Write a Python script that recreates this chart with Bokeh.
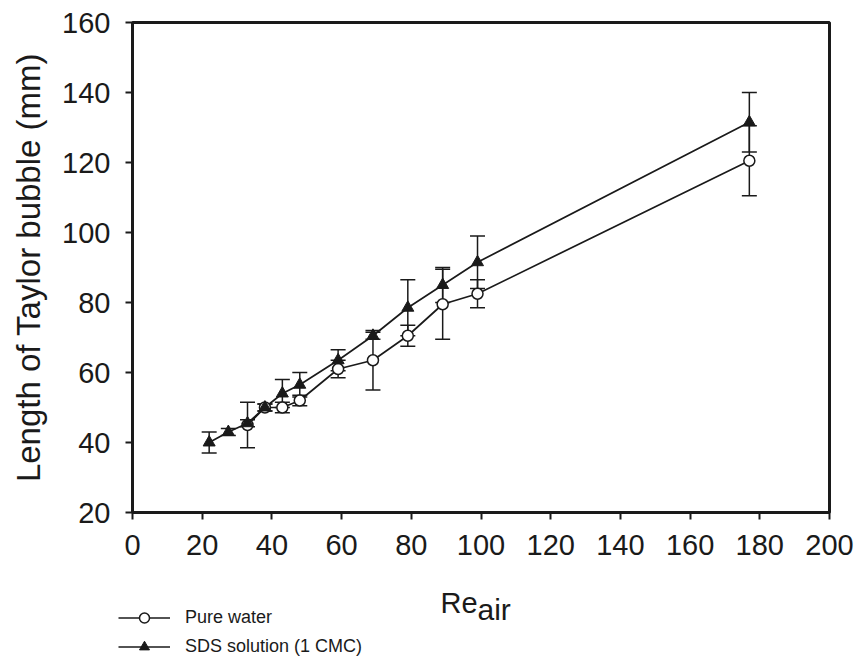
from bokeh.plotting import figure
from bokeh.layouts import column
from bokeh.models import (ColumnDataSource, Whisker, TeeHead, Legend, LegendItem,
                          FixedTicker, Range1d)
from bokeh.core.properties import value
from bokeh.embed import file_html
from bokeh.resources import INLINE

# ---- data ----
re_water = [33, 38, 43, 48, 59, 69, 79, 89, 99, 177]
len_water = [45, 50, 50, 52, 61, 63.5, 70.5, 79.5, 82.5, 120.5]
err_water = [6.5, 1, 1.5, 1.5, 2.5, 8.5, 3, 10, 4, 10]

re_sds = [22, 27.5, 33, 38, 43, 48, 59, 69, 79, 89, 99, 177]
len_sds = [40, 43, 45.5, 50, 54, 56.5, 63.5, 70.5, 78.5, 85, 91.5, 131.5]
err_sds = [3, 1, 1, 1, 4, 3.5, 3, 1, 8, 5, 7.5, 8.5]

x_ticks = [0, 20, 40, 60, 80, 100, 120, 140, 160, 180, 200]
y_ticks = [20, 40, 60, 80, 100, 120, 140, 160]

series_names = ["Pure water", "SDS solution (1 CMC)"]
y_title = "Length of Taylor bubble (mm)"
x_title_main, x_title_sub = "Re", "air"

FONT = "Liberation Sans"
INK = "#1a1a1a"

src_w = ColumnDataSource(dict(x=re_water, y=len_water,
                              lo=[v - e for v, e in zip(len_water, err_water)],
                              hi=[v + e for v, e in zip(len_water, err_water)]))
src_s = ColumnDataSource(dict(x=re_sds, y=len_sds,
                              lo=[v - e for v, e in zip(len_sds, err_sds)],
                              hi=[v + e for v, e in zip(len_sds, err_sds)]))

W = 860
H_MAIN = 575
H_FOOT = 85

p = figure(width=W, height=H_MAIN, output_backend="svg", toolbar_location=None,
           x_range=Range1d(0, 200), y_range=Range1d(20, 160))
p.frame_align = False
p.min_border_left = 132
p.min_border_right = 31
p.min_border_top = 22
p.min_border_bottom = H_MAIN - 512
p.background_fill_color = "white"
p.border_fill_color = "white"
p.outline_line_color = INK
p.outline_line_width = 3
p.xgrid.visible = False
p.ygrid.visible = False

for ax in (p.xaxis, p.yaxis):
    ax.axis_line_width = 3
    ax.axis_line_color = INK
    ax.major_tick_line_color = INK
    ax.major_tick_line_width = 2
    ax.major_tick_out = 7
    ax.major_tick_in = 0
    ax.minor_tick_line_color = None
    ax.major_label_text_font = FONT
    ax.major_label_text_font_size = "29px"
    ax.major_label_text_color = INK

p.xaxis.ticker = FixedTicker(ticks=x_ticks)
p.yaxis.ticker = FixedTicker(ticks=y_ticks)
p.xaxis.major_label_standoff = 15
p.yaxis.major_label_standoff = 15

p.yaxis.axis_label = y_title
p.yaxis.axis_label_text_font = FONT
p.yaxis.axis_label_text_font_size = "33px"
p.yaxis.axis_label_text_font_style = "normal"
p.yaxis.axis_label_text_color = INK
p.yaxis.axis_label_standoff = 12

# error bars
for src in (src_w, src_s):
    w = Whisker(base="x", upper="hi", lower="lo", source=src, dimension="height",
                line_color=INK, line_width=1.5,
                upper_head=TeeHead(size=15, line_color=INK, line_width=1.5),
                lower_head=TeeHead(size=15, line_color=INK, line_width=1.5),
                level="underlay")
    p.add_layout(w)

line_kw = dict(line_color=INK, line_width=1.7)
w_kw = dict(marker="circle", size=11, fill_color="white", line_color=INK, line_width=1.5)
s_kw = dict(marker="triangle", size=12, fill_color=INK, line_color=INK, line_width=1)

p.line("x", "y", source=src_w, **line_kw)
p.line("x", "y", source=src_s, **line_kw)
p.scatter("x", "y", source=src_w, **w_kw)
p.scatter("x", "y", source=src_s, **s_kw)

# ---- footer: legend and x-axis title (Re with subscript "air") ----
q = figure(width=W, height=H_FOOT, output_backend="svg", toolbar_location=None,
           x_range=Range1d(0, W), y_range=Range1d(H_MAIN + H_FOOT, H_MAIN),
           x_axis_type=None, y_axis_type=None, min_border=0)
q.frame_align = False
q.outline_line_color = None
q.xgrid.visible = False
q.ygrid.visible = False
q.background_fill_color = "white"
q.border_fill_color = "white"

q.text(x=[440], y=[602], text=[x_title_main], text_font=value(FONT), text_font_size="29px",
       text_color=INK, text_baseline="alphabetic", text_align="left")
q.text(x=[477], y=[609], text=[x_title_sub], text_font=value(FONT), text_font_size="30px",
       text_color=INK, text_baseline="alphabetic", text_align="left")

# proxy renderers (placed off-view) that only feed the legend swatches
lw = q.line(x=[-50, -40], y=[-50, -50], **line_kw)
mw = q.scatter(x=[-50], y=[-50], **w_kw)
ls = q.line(x=[-50, -40], y=[-50, -50], **line_kw)
ms = q.scatter(x=[-50], y=[-50], **s_kw)

legend = Legend(items=[LegendItem(label=series_names[0], renderers=[lw, mw]),
                       LegendItem(label=series_names[1], renderers=[ls, ms])],
                location=(118, 1), orientation="vertical",
                background_fill_alpha=0, border_line_color=None,
                label_text_font=FONT, label_text_font_size="18px", label_text_color=INK,
                glyph_width=52, glyph_height=25, label_height=25, spacing=4,
                padding=0, margin=0, label_standoff=15)
q.add_layout(legend)

layout = column(p, q, spacing=0)
open("out.html", "w").write(file_html(layout, INLINE))
